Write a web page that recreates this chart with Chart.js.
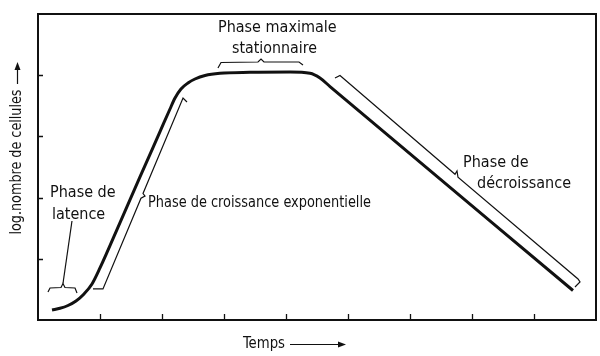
<!DOCTYPE html>
<html>
<head>
<meta charset="utf-8">
<script src="https://cdn.jsdelivr.net/npm/chart.js@4/dist/chart.umd.min.js"></script>
<style>
  html, body { margin: 0; padding: 0; background: #fff; }
  canvas { display: block; }
</style>
</head>
<body>
<canvas id="c" width="600" height="356"></canvas>
<script>
// ---- Data (time units vs log number of cells) ----
const timeValues = [0.226, 0.355, 0.484, 0.613, 0.742, 0.871, 1.000, 1.323, 1.645, 1.968, 2.129, 2.210, 2.306, 2.419, 2.532, 2.694, 2.935, 3.419, 4.065, 4.387, 4.548, 4.710, 8.629];
const logCounts  = [0.163, 0.191, 0.237, 0.310, 0.425, 0.588, 0.850, 1.592, 2.337, 3.078, 3.448, 3.627, 3.775, 3.873, 3.938, 3.995, 4.031, 4.047, 4.052, 4.031, 3.954, 3.815, 0.482];

// Phase brackets
const lagBraceX   = [0.161, 0.194, 0.371, 0.403, 0.435, 0.597, 0.629];
const lagBraceY   = [0.458, 0.523, 0.531, 0.596, 0.531, 0.523, 0.441];
const lagLeaderX  = [0.403, 0.548];
const lagLeaderY  = [0.596, 1.618];
const expBraceX   = [0.887, 1.048, 1.661, 1.726, 1.694, 2.339, 2.403];
const expBraceY   = [0.507, 0.507, 1.989, 2.026, 2.067, 3.627, 3.562];
const statBraceX  = [2.903, 2.952, 3.548, 3.597, 3.645, 4.210, 4.274];
const statBraceY  = [4.118, 4.208, 4.216, 4.265, 4.216, 4.216, 4.167];
const declBraceX  = [4.790, 4.871, 6.726, 6.758, 6.774, 8.710, 8.742, 8.661];
const declBraceY  = [3.954, 3.995, 2.381, 2.435, 2.333, 0.670, 0.621, 0.539];

// Axis ticks (unlabelled)
const xTickValues = [1, 2, 3, 4, 5, 6, 7, 8];
const yTickValues = [1, 2, 3, 4];

// Texts
const xAxisTitle = 'Temps';
const yAxisTitle = 'log.nombre de cellules';
const phaseLabels = [
  { text: 'Phase de', x: 0.194, y: 2.075, w: 68 },
  { text: 'latence', x: 0.226, y: 1.716, w: 55 },
  { text: 'Phase de croissance exponentielle', x: 1.774, y: 1.920, w: 223 },
  { text: 'Phase maximale', x: 2.903, y: 4.780, w: 119 },
  { text: 'stationnaire', x: 3.129, y: 4.428, w: 85 },
  { text: 'Phase de', x: 6.855, y: 2.565, w: 74 },
  { text: 'décroissance', x: 7.081, y: 2.230, w: 101 }
];

const FONT = '"DejaVu Sans Condensed", "Liberation Sans Narrow", "DejaVu Sans", sans-serif';
const INK = '#111';

function pts(xs, ys) { return xs.map((x, i) => ({ x: x, y: ys[i] })); }

const thin = (xs, ys) => ({
  data: pts(xs, ys), showLine: true, borderColor: INK, borderWidth: 1.2,
  pointRadius: 0, tension: 0, fill: false
});

const framePlugin = {
  id: 'frame',
  beforeDraw(chart) {
    const ctx = chart.ctx;
    ctx.save();
    ctx.fillStyle = '#fff';
    ctx.fillRect(0, 0, chart.width, chart.height);
    ctx.restore();
  },
  afterDraw(chart) {
    const { ctx, chartArea: a, scales } = chart;
    ctx.save();
    ctx.strokeStyle = INK;
    ctx.lineWidth = 2;
    ctx.strokeRect(a.left, a.top, a.right - a.left, a.bottom - a.top);
    ctx.lineWidth = 1.3;
    ctx.beginPath();
    yTickValues.forEach(v => {
      const y = Math.round(scales.y.getPixelForValue(v)) + 0.5;
      ctx.moveTo(a.left, y); ctx.lineTo(a.left + 5, y);
    });
    xTickValues.forEach(v => {
      const x = Math.round(scales.x.getPixelForValue(v)) + 0.5;
      ctx.moveTo(x, a.bottom); ctx.lineTo(x, a.bottom - 6);
    });
    ctx.stroke();

    // phase labels
    ctx.fillStyle = INK;
    ctx.font = '16px ' + FONT;
    ctx.textAlign = 'left';
    ctx.textBaseline = 'middle';
    phaseLabels.forEach(l => {
      ctx.fillText(l.text, scales.x.getPixelForValue(l.x), scales.y.getPixelForValue(l.y), l.w);
    });

    // x axis title with arrow
    ctx.fillText(xAxisTitle, 243, 344, 42);
    ctx.lineWidth = 1.2;
    ctx.beginPath();
    ctx.moveTo(290, 344.5); ctx.lineTo(341, 344.5);
    ctx.stroke();
    ctx.beginPath();
    ctx.moveTo(346, 344.5); ctx.lineTo(338, 341.5); ctx.lineTo(338, 347.5); ctx.closePath();
    ctx.fill();

    // y axis title with arrow
    ctx.save();
    ctx.translate(17, 162);
    ctx.rotate(-Math.PI / 2);
    ctx.textAlign = 'center';
    ctx.fillText(yAxisTitle, 0, 0, 145);
    ctx.restore();
    ctx.beginPath();
    ctx.moveTo(17.5, 84); ctx.lineTo(17.5, 68);
    ctx.stroke();
    ctx.beginPath();
    ctx.moveTo(17.5, 62); ctx.lineTo(14.5, 70); ctx.lineTo(20.5, 70); ctx.closePath();
    ctx.fill();
    ctx.restore();
  }
};

new Chart(document.getElementById('c'), {
  type: 'scatter',
  data: {
    datasets: [
      {
        data: pts(timeValues, logCounts), showLine: true, borderColor: INK,
        borderWidth: 3, pointRadius: 0, cubicInterpolationMode: 'monotone', fill: false
      },
      thin(lagBraceX, lagBraceY),
      thin(lagLeaderX, lagLeaderY),
      thin(expBraceX, expBraceY),
      thin(statBraceX, statBraceY),
      thin(declBraceX, declBraceY)
    ]
  },
  options: {
    responsive: false,
    devicePixelRatio: 1,
    animation: false,
    layout: { padding: { left: 38, top: 14, right: 4, bottom: 36 } },
    plugins: { legend: { display: false }, tooltip: { enabled: false } },
    scales: {
      x: { type: 'linear', min: 0, max: 9, display: false },
      y: { type: 'linear', min: 0, max: 5, display: false }
    }
  },
  plugins: [framePlugin]
});
</script>
</body>
</html>
